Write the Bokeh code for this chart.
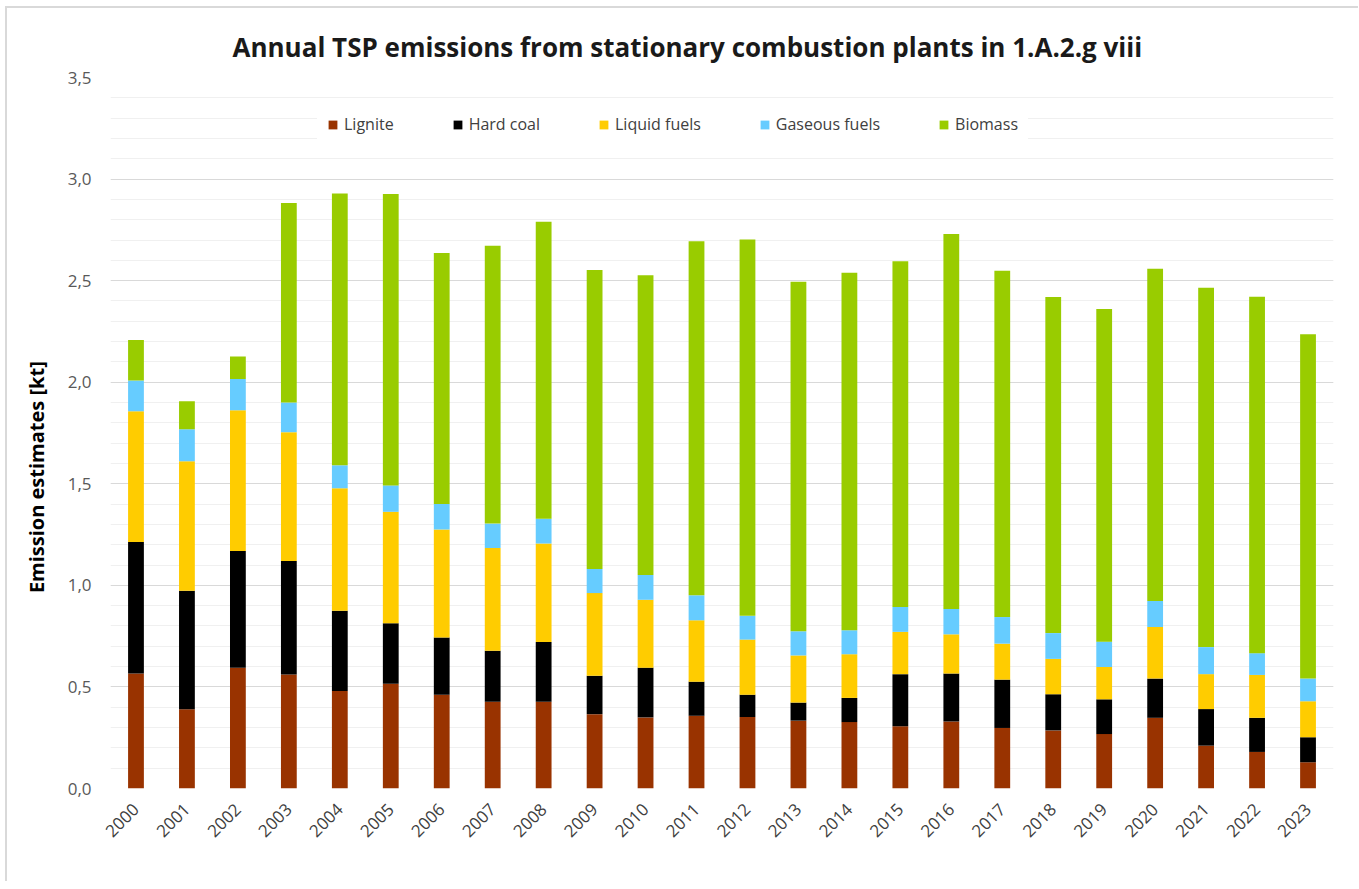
from bokeh.plotting import figure
from bokeh.models import (Range1d, FactorRange, SingleIntervalTicker, CustomJSTickFormatter,
                          Legend)
from bokeh.embed import file_html
from bokeh.resources import INLINE
from math import pi

years = [str(y) for y in range(2000, 2024)]
lignite = [0.566, 0.390, 0.594, 0.561, 0.480, 0.516, 0.462, 0.427, 0.427, 0.366, 0.350, 0.358,
           0.352, 0.334, 0.327, 0.307, 0.330, 0.298, 0.286, 0.268, 0.348, 0.211, 0.180, 0.129]
hard_coal = [0.647, 0.584, 0.575, 0.559, 0.395, 0.298, 0.281, 0.251, 0.294, 0.189, 0.245, 0.168,
             0.110, 0.089, 0.119, 0.256, 0.236, 0.238, 0.178, 0.171, 0.193, 0.180, 0.168, 0.123]
liquid_fuels = [0.644, 0.637, 0.693, 0.634, 0.603, 0.548, 0.532, 0.506, 0.485, 0.407, 0.334, 0.302,
                0.271, 0.232, 0.215, 0.208, 0.193, 0.177, 0.174, 0.159, 0.254, 0.172, 0.211, 0.178]
gaseous_fuels = [0.151, 0.157, 0.154, 0.146, 0.113, 0.130, 0.126, 0.120, 0.122, 0.119, 0.122, 0.123,
                 0.117, 0.119, 0.118, 0.123, 0.125, 0.131, 0.127, 0.125, 0.128, 0.133, 0.107, 0.111]
biomass = [0.200, 0.138, 0.111, 0.982, 1.338, 1.435, 1.235, 1.368, 1.462, 1.472, 1.475, 1.743,
           1.852, 1.720, 1.760, 1.702, 1.846, 1.705, 1.654, 1.638, 1.636, 1.769, 1.755, 1.695]

series = ["Lignite", "Hard coal", "Liquid fuels", "Gaseous fuels", "Biomass"]
colors = ["#993300", "#000000", "#FFCC00", "#66CCFF", "#99CC00"]

data = {"year": years, "Lignite": lignite, "Hard coal": hard_coal,
        "Liquid fuels": liquid_fuels, "Gaseous fuels": gaseous_fuels, "Biomass": biomass}

FONT = "Open Sans"

p = figure(x_range=FactorRange(*years), y_range=Range1d(0, 3.5),
           frame_width=1223, frame_height=711,
           min_border_left=103, min_border_right=25, min_border_top=69, min_border_bottom=93,
           output_backend="svg", toolbar_location=None, tools="",
           title="Annual TSP emissions from stationary combustion plants in 1.A.2.g viii")
p.styles = {"border-top": "2px solid #d9d9d9", "border-left": "2px solid #d9d9d9",
            "margin-left": "5px", "margin-top": "6px"}

p.title.text_font = FONT
p.title.text_font_size = "26px"
p.title.text_font_style = "bold"
p.title.text_color = "#1a1a1a"
p.title.align = "left"
p.title.offset = 122
p.title.standoff = 25

renderers = p.vbar_stack(series, x="year", width=0.31, color=colors, source=data,
                         line_color=None)

legend = Legend(items=[(s, [r]) for s, r in zip(series, renderers)],
                orientation="horizontal", location=(207, 643),
                label_text_font=FONT, label_text_font_size="16px", label_text_color="#404040",
                glyph_width=11, glyph_height=11, label_standoff=6, spacing=58,
                padding=10, border_line_alpha=0, background_fill_color="white",
                background_fill_alpha=1.0)
p.add_layout(legend, "center")

p.outline_line_color = None
p.xgrid.grid_line_color = None
p.ygrid.grid_line_color = "#d9d9d9"
p.ygrid.grid_line_width = 1
p.ygrid.minor_grid_line_color = "#f0f0f0"

p.yaxis.ticker = SingleIntervalTicker(interval=0.5, num_minor_ticks=5)
p.yaxis.formatter = CustomJSTickFormatter(code="return tick.toFixed(1).replace('.', ',');")
p.yaxis.axis_line_color = None
p.yaxis.major_tick_line_color = None
p.yaxis.minor_tick_line_color = None
p.yaxis.major_label_text_font = FONT
p.yaxis.major_label_text_font_size = "17px"
p.yaxis.major_label_text_color = "#595959"
p.yaxis.major_label_standoff = 13
p.yaxis.axis_label = "Emission estimates [kt]" + "\u00a0" * 17
p.yaxis.axis_label_text_font = FONT
p.yaxis.axis_label_text_font_size = "20px"
p.yaxis.axis_label_text_font_style = "bold"
p.yaxis.axis_label_text_color = "#000000"
p.yaxis.axis_label_standoff = 15

p.xaxis.axis_line_color = None
p.xaxis.major_tick_line_color = None
p.xaxis.minor_tick_line_color = None
p.xaxis.major_label_orientation = pi / 4
p.xaxis.major_label_text_font = FONT
p.xaxis.major_label_text_font_size = "17px"
p.xaxis.major_label_text_color = "#404040"
p.xaxis.major_label_standoff = 12

open("out.html", "w").write(file_html(p, INLINE))
